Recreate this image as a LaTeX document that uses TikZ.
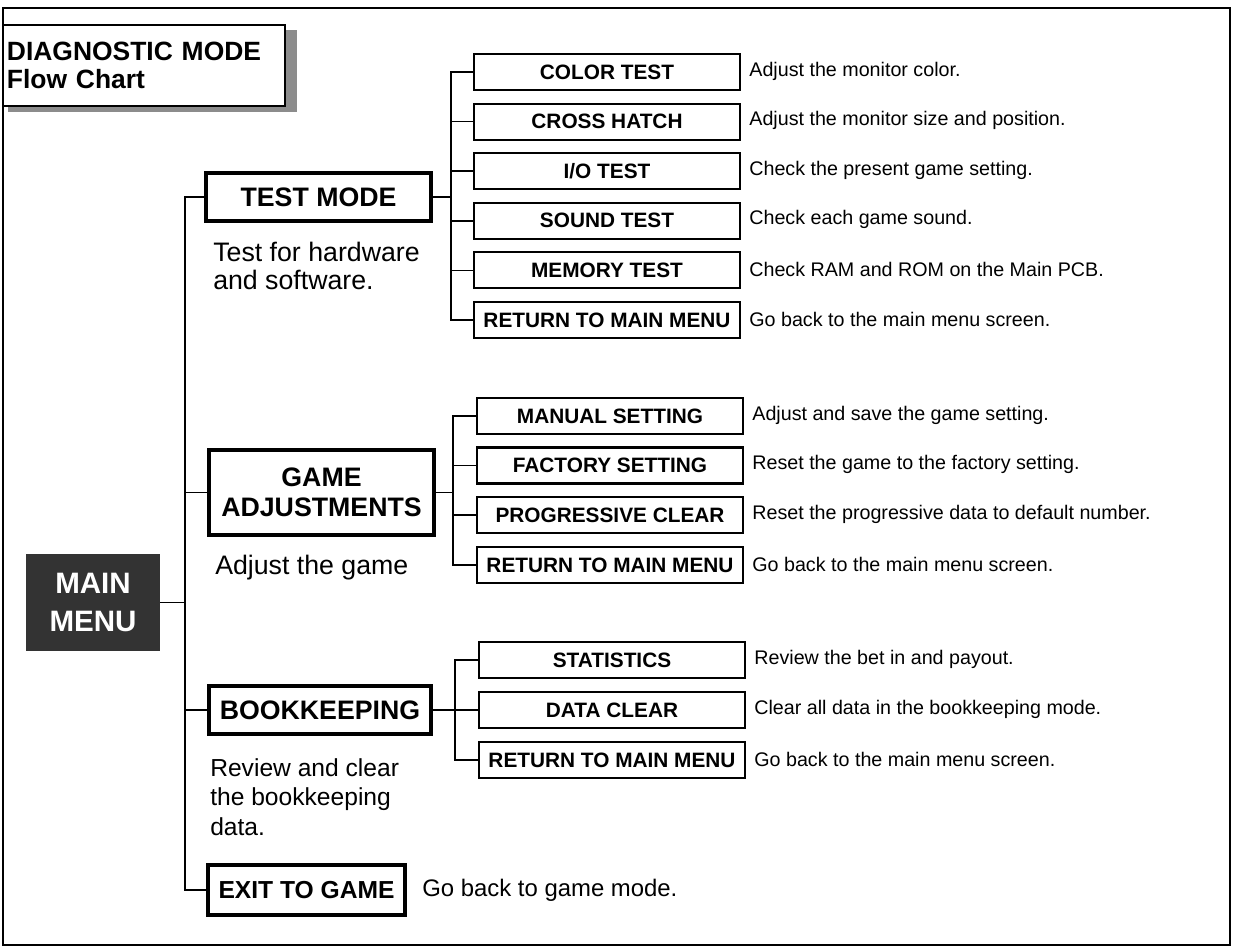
\documentclass[tikz,border=0pt]{standalone}
\usepackage{fontspec}
\setmainfont{Liberation Sans}
\usetikzlibrary{calc}

\begin{document}
\begin{tikzpicture}[x=0.025cm, y=-0.025cm,
	modebox/.style={draw, line width=2.6pt, fill=white, inner sep=0pt, align=center, font=\bfseries\fontsize{19}{21}\selectfont},
	itembox/.style={draw, line width=1.5pt, fill=white, inner sep=0pt, minimum width=6.65cm, minimum height=0.9cm, font=\bfseries\fontsize{14.8}{17}\selectfont},
	desc/.style={anchor=west, inner sep=0pt, font=\fontsize{14}{17}\selectfont},
	note/.style={anchor=west, inner sep=0pt, align=left, font=\fontsize{19}{20}\selectfont},
	link/.style={line width=1.2pt}]
	\useasboundingbox (0,0) rectangle (1238,949);
	\draw[line width=1.3pt] (3,8) rectangle (1230,945);

	\fill[black!45] (8,30) rectangle (297,112);
	\node[draw, line width=1.3pt, fill=white, minimum width=7.05cm, minimum height=2.025cm, text width=6.85cm, inner xsep=0.1cm, align=left, font=\bfseries\fontsize{18.8}{20}\selectfont] (title) at (144,65.5) {DIAGNOSTIC MODE\\Flow Chart};

	\node[fill=black!80, text=white, minimum width=3.35cm, minimum height=2.425cm, align=center, font=\bfseries\fontsize{21}{27}\selectfont] (main) at (93,602.5) {MAIN\\MENU};

	\node[modebox, minimum width=5.625cm, minimum height=1.2cm] (test) at (318.5,197) {TEST MODE};
	\node[modebox, minimum width=5.625cm, minimum height=2.125cm] (game) at (321.5,492.5) {GAME\\ADJUSTMENTS};
	\node[modebox, minimum width=5.55cm, minimum height=1.2cm] (book) at (320,710) {BOOKKEEPING};
	\node[modebox, minimum width=4.925cm, minimum height=1.25cm, font=\bfseries\fontsize{17.5}{21}\selectfont] (exit) at (306.5,890) {EXIT TO GAME};

	\node[note] (testnote) at (213,266) {Test for hardware\\and software.};
	\node[note] (gamenote) at (215,568) {Adjust the game};
	\node[note, font=\fontsize{17.5}{21}\selectfont] (booknote) at (210,797) {Review and clear\\the bookkeeping\\data.};
	\node[note, font=\fontsize{17}{20}\selectfont] (exitnote) at (422,890) {Go back to game mode.};

	\coordinate (trunk) at (185,0);
	\draw[link] (main.east) -- (main.east -| trunk);
	\draw[link] (test.west) -- (test.west -| trunk) -- (exit.west -| trunk) -- (exit.west);
	\draw[link] (game.west) -- (game.west -| trunk);
	\draw[link] (book.west) -- (book.west -| trunk);

	\node[itembox] (color) at (607,72) {COLOR TEST};
	\node[itembox] (hatch) at (607,121.6) {CROSS HATCH};
	\node[itembox] (io) at (607,171.2) {I/O TEST};
	\node[itembox] (sound) at (607,220.8) {SOUND TEST};
	\node[itembox] (memory) at (607,270.4) {MEMORY TEST};
	\node[itembox] (testback) at (607,320) {RETURN TO MAIN MENU};
	\node[desc] (colordesc) at ($(color.east)+(8,-1)$) {Adjust the monitor color.};
	\node[desc] (hatchdesc) at ($(hatch.east)+(8,-1)$) {Adjust the monitor size and position.};
	\node[desc] (iodesc) at ($(io.east)+(8,-1)$) {Check the present game setting.};
	\node[desc] (sounddesc) at ($(sound.east)+(8,-1)$) {Check each game sound.};
	\node[desc] (memorydesc) at ($(memory.east)+(8,-1)$) {Check RAM and ROM on the Main PCB.};
	\node[desc] (testbackdesc) at ($(testback.east)+(8,-1)$) {Go back to the main menu screen.};
	\coordinate (testtrunk) at (451,0);
	\draw[link] (test.east) -- (test.east -| testtrunk);
	\draw[link] (color.west) -- (color.west -| testtrunk) -- (testback.west -| testtrunk) -- (testback.west);
	\draw[link] (hatch.west) -- (hatch.west -| testtrunk);
	\draw[link] (io.west) -- (io.west -| testtrunk);
	\draw[link] (sound.west) -- (sound.west -| testtrunk);
	\draw[link] (memory.west) -- (memory.west -| testtrunk);

	\node[itembox] (manual) at (610,416) {MANUAL SETTING};
	\node[itembox] (factory) at (610,465.5) {FACTORY SETTING};
	\node[itembox] (progressive) at (610,515) {PROGRESSIVE CLEAR};
	\node[itembox] (gameback) at (610,565) {RETURN TO MAIN MENU};
	\node[desc] (manualdesc) at ($(manual.east)+(8,-1)$) {Adjust and save the game setting.};
	\node[desc] (factorydesc) at ($(factory.east)+(8,-1)$) {Reset the game to the factory setting.};
	\node[desc] (progressivedesc) at ($(progressive.east)+(8,-1)$) {Reset the progressive data to default number.};
	\node[desc] (gamebackdesc) at ($(gameback.east)+(8,-1)$) {Go back to the main menu screen.};
	\coordinate (gametrunk) at (453,0);
	\draw[link] (game.east) -- (game.east -| gametrunk);
	\draw[link] (manual.west) -- (manual.west -| gametrunk) -- (gameback.west -| gametrunk) -- (gameback.west);
	\draw[link] (factory.west) -- (factory.west -| gametrunk);
	\draw[link] (progressive.west) -- (progressive.west -| gametrunk);

	\node[itembox] (stats) at (612,660) {STATISTICS};
	\node[itembox] (clear) at (612,710) {DATA CLEAR};
	\node[itembox] (bookback) at (612,760) {RETURN TO MAIN MENU};
	\node[desc] (statsdesc) at ($(stats.east)+(8,-1)$) {Review the bet in and payout.};
	\node[desc] (cleardesc) at ($(clear.east)+(8,-1)$) {Clear all data in the bookkeeping mode.};
	\node[desc] (bookbackdesc) at ($(bookback.east)+(8,-1)$) {Go back to the main menu screen.};
	\coordinate (booktrunk) at (455,0);
	\draw[link] (book.east) -- (book.east -| booktrunk);
	\draw[link] (stats.west) -- (stats.west -| booktrunk) -- (bookback.west -| booktrunk) -- (bookback.west);
	\draw[link] (clear.west) -- (clear.west -| booktrunk);
\end{tikzpicture}
\end{document}
